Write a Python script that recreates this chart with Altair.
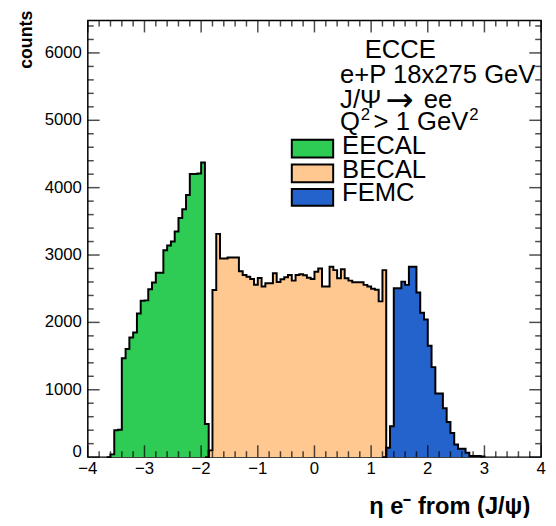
import altair as alt
import pandas as pd

# ---------------- data ----------------
X_MIN, X_MAX, N_BINS = -4.0, 4.0, 120   # common binning of the three histograms

names = ["EECAL", "BECAL", "FEMC"]
colors = ["#2ECC55", "#FFC890", "#2462CC"]

eecal_first_bin = 6
eecal_counts = [41, 400, 407, 1469, 1605, 1776, 1850, 2132, 2320, 2327, 2493, 2591,
                2737, 2737, 3070, 3143, 3200, 3350, 3550, 3680, 3890, 4203, 4203,
                4210, 4374, 491]

becal_first_bin = 32
becal_counts = [100, 2480, 3314, 2950, 2950, 2962, 2962, 2962, 2760, 2703, 2679, 2645,
                2560, 2660, 2532, 2581, 2581, 2728, 2600, 2640, 2669, 2703, 2620, 2703,
                2715, 2700, 2664, 2645, 2752, 2801, 2532, 2532, 2825, 2776, 2655, 2790,
                2655, 2620, 2596, 2596, 2596, 2557, 2532, 2500, 2483, 2312, 2776]

femc_first_bin = 79
femc_counts = [139, 457, 2508, 2508, 2605, 2557, 2825, 2825, 2444, 2142, 2044, 1653,
               1336, 945, 945, 725, 520, 359, 188, 125, 125, 66, 18, 18, 18, 10]

x_major = [-4, -3, -2, -1, 0, 1, 2, 3, 4]
x_minor = [-3.8, -3.6, -3.4, -3.2, -2.8, -2.6, -2.4, -2.2, -1.8, -1.6, -1.4, -1.2,
           -0.8, -0.6, -0.4, -0.2, 0.2, 0.4, 0.6, 0.8, 1.2, 1.4, 1.6, 1.8,
           2.2, 2.4, 2.6, 2.8, 3.2, 3.4, 3.6, 3.8]
y_major = [1000, 2000, 3000, 4000, 5000, 6000]
y_zero = [0]
y_minor = [200, 400, 600, 800, 1200, 1400, 1600, 1800, 2200, 2400, 2600, 2800,
           3200, 3400, 3600, 3800, 4200, 4400, 4600, 4800, 5200, 5400, 5600, 5800,
           6200, 6400]
Y_TOP = 6480

info_lines = ["ECCE", "e+P 18x275 GeV", "J/Ψ", "→", "ee", "Q", "2", "> 1 GeV", "2"]
x_title = "η e⁻ from (J/ψ)"
y_title = "counts"

# ---------------- build tables ----------------
rows = []
bw = (X_MAX - X_MIN) / N_BINS
for name, first, counts in [("EECAL", eecal_first_bin, eecal_counts),
                            ("BECAL", becal_first_bin, becal_counts),
                            ("FEMC", femc_first_bin, femc_counts)]:
    vals = [0] + counts + [0]
    for i, c in enumerate(vals):
        k = first - 1 + i
        rows.append({"name": name, "eta": X_MIN + k * bw, "count": c})
hist = pd.DataFrame(rows)

xlab = pd.DataFrame({"v": x_major, "lab": [str(v).replace("-", "\u2212") for v in x_major]})
ylab = pd.DataFrame({"v": y_major, "lab": [str(v) for v in y_major]})
y0lab = pd.DataFrame({"v": y_zero, "lab": [str(v) for v in y_zero]})

W, H = 460, 443
FONT = "Liberation Sans"

xs = alt.Scale(domain=[X_MIN, X_MAX], nice=False, zero=False)
ys = alt.Scale(domain=[0, Y_TOP], nice=False, zero=False)
cs = alt.Scale(domain=names, range=colors)

area = alt.Chart(hist).mark_area(interpolate="step-after", opacity=1).encode(
    x=alt.X("eta:Q", scale=xs, axis=None),
    y=alt.Y("count:Q", scale=ys, stack=None, axis=None),
    color=alt.Color("name:N", scale=cs, legend=None),
)
outline = alt.Chart(hist).mark_line(interpolate="step-after", color="black", strokeWidth=2).encode(
    x=alt.X("eta:Q", scale=xs, axis=None),
    y=alt.Y("count:Q", scale=ys, axis=None),
    detail="name:N",
)

xmaj = pd.DataFrame({"v": x_major})
xmin_ = pd.DataFrame({"v": x_minor})
ymaj = pd.DataFrame({"v": y_zero + y_major})
ymin_ = pd.DataFrame({"v": y_minor})

def xticks(df, size, ypos):
    return alt.Chart(df).mark_tick(orient="vertical", size=size, thickness=1.5, color="black").encode(
        x=alt.X("v:Q", scale=xs, axis=None), y=alt.value(ypos))

def yticks(df, size, xpos):
    return alt.Chart(df).mark_tick(orient="horizontal", size=size, thickness=1.5, color="black").encode(
        y=alt.Y("v:Q", scale=ys, axis=None), x=alt.value(xpos))

ticks = [
    xticks(xmaj, 12, H - 6), xticks(xmin_, 6, H - 3),
    xticks(xmaj, 12, 6), xticks(xmin_, 6, 3),
    yticks(ymaj, 12, 6), yticks(ymin_, 6, 3),
    yticks(ymaj, 12, W - 6), yticks(ymin_, 6, W - 3),
]

xlabels = alt.Chart(xlab).mark_text(font=FONT, fontSize=17, align="center", baseline="top",
                                    color="black").encode(
    x=alt.X("v:Q", scale=xs, axis=None), y=alt.value(H + 4), text="lab:N")
ylabels = alt.Chart(ylab).mark_text(font=FONT, fontSize=17, align="right", baseline="middle",
                                    color="black").encode(
    y=alt.Y("v:Q", scale=ys, axis=None), x=alt.value(-6), text="lab:N")
y0label = alt.Chart(y0lab).mark_text(font=FONT, fontSize=17, align="right", baseline="alphabetic",
                                     color="black").encode(
    y=alt.Y("v:Q", scale=ys, axis=None), x=alt.value(-6), text="lab:N")

def label(text, x, y, size=26, weight="normal", align="left", angle=0, font=FONT):
    return alt.Chart(pd.DataFrame({"t": [text]})).mark_text(
        font=font, fontSize=size, fontWeight=weight, align=align, baseline="alphabetic",
        angle=angle, color="black").encode(text="t:N", x=alt.value(x), y=alt.value(y))

texts = [
    label(info_lines[0], 281, 38),
    label(info_lines[1], 256, 63),
    label(info_lines[2], 256, 89),
    label(info_lines[3], 302, 92, size=34, font="DejaVu Sans"),
    label(info_lines[4], 341, 89),
    label(info_lines[5], 256, 111),
    label(info_lines[6], 277, 101, size=17),
    label(info_lines[7], 290, 111),
    label(info_lines[8], 387, 101, size=17),
    label(x_title, 449, 501, size=24, weight="bold", align="right"),
    label(y_title, -57, -10, size=18, weight="bold", align="right", angle=270),
]

legend_boxes = []
box_y = [(121, 139), (146, 164), (171, 188)]
text_y = [135, 160, 183]
for n, c, (y0, y1), ty in zip(names, colors, box_y, text_y):
    legend_boxes.append(
        alt.Chart(pd.DataFrame({"name": [n]})).mark_rect(fill=c, stroke="black", strokeWidth=2).encode(
            x=alt.value(207), x2=alt.value(249), y=alt.value(y0), y2=alt.value(y1)))
    legend_boxes.append(label(n, 258, ty))

chart = alt.layer(area, outline, *ticks, xlabels, ylabels, y0label, *texts, *legend_boxes).properties(
    width=W, height=H,
    autosize=alt.AutoSizeParams(type="none"),
    padding={"left": 81, "top": 9, "right": 7, "bottom": 58},
    background="white",
).configure_view(stroke="black", strokeWidth=1.5)

chart.save("out.html", embed_options={"renderer": "svg", "actions": False})
